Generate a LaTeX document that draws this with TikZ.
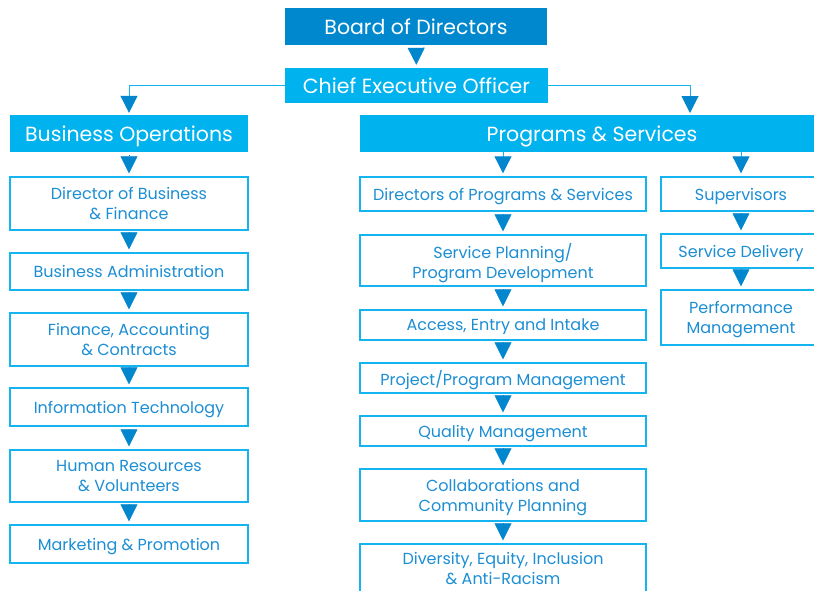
\documentclass[tikz,border=0pt]{standalone}
\usepackage{fontspec}
\setmainfont{Poppins}
\usetikzlibrary{arrows.meta}

\definecolor{boardblue}{RGB}{0,136,207}
\definecolor{headblue}{RGB}{0,178,238}
\definecolor{lineblue}{RGB}{20,180,240}
\definecolor{tipblue}{RGB}{2,134,206}
\definecolor{txtblue}{RGB}{28,142,212}

\tikzset{
  header/.style={fill=headblue, text=white, inner sep=0pt, text depth=0pt,
    font=\fontsize{20.5}{24}\selectfont},
  unit/.style={draw=lineblue, line width=1.4pt, fill=white, text=txtblue,
    inner sep=0pt, text depth=0pt, align=center,
    font=\fontsize{16}{20}\selectfont},
  link/.style={draw=lineblue, line width=1pt},
  tipped/.style={-{Triangle[length=17pt,width=17pt,color=tipblue,fill=tipblue]},
    shorten >=3pt},
  chain/.style={tipped, draw=tipblue, line width=0.5pt, shorten <=3pt}
}

\begin{document}
\begin{tikzpicture}[x=1pt,y=-1pt]
\clip (0,0) rectangle (814,590);
\fill[white] (0,0) rectangle (814,590);

% top of the organisation
\node[header, fill=boardblue, minimum width=262pt, minimum height=37pt] (board) at (416,26.5) {Board of Directors};
\node[header, minimum width=263pt, minimum height=35pt] (ceo) at (416.5,85.5) {Chief Executive Officer};

% the two divisions
\node[header, minimum width=238pt, minimum height=37pt] (bizops) at (129,133.5) {Business Operations};
\node[header, minimum width=464pt, minimum height=37pt] (progs) at (592,133.5) {Programs \& Services};
\coordinate (progsin) at (690,115);

% business operations column
\node[unit, minimum width=238pt, minimum height=53pt] (l1) at (129,203.5) {Director of Business\\\& Finance};
\node[unit, minimum width=238pt, minimum height=37pt] (l2) at (129,271.5) {Business Administration};
\node[unit, minimum width=238pt, minimum height=53pt] (l3) at (129,339.5) {Finance, Accounting\\\& Contracts};
\node[unit, minimum width=238pt, minimum height=38pt] (l4) at (129,407) {Information Technology};
\node[unit, minimum width=238pt, minimum height=52pt] (l5) at (129,476) {Human Resources\\\& Volunteers};
\node[unit, minimum width=238pt, minimum height=38pt] (l6) at (129,544) {Marketing \& Promotion};

% programs column
\node[unit, minimum width=286pt, minimum height=34pt] (m1) at (503,194) {Directors of Programs \& Services};
\node[unit, minimum width=286pt, minimum height=51pt] (m2) at (503,260.5) {Service Planning/\\Program Development};
\node[unit, minimum width=286pt, minimum height=30pt] (m3) at (503,325) {Access, Entry and Intake};
\node[unit, minimum width=286pt, minimum height=30pt] (m4) at (503,378) {Project/Program Management};
\node[unit, minimum width=286pt, minimum height=30pt] (m5) at (503,431) {Quality Management};
\node[unit, minimum width=286pt, minimum height=52pt] (m6) at (503,495) {Collaborations and\\Community Planning};
\node[unit, minimum width=286pt, minimum height=48pt] (m7) at (503,568) {Diversity, Equity, Inclusion\\\& Anti-Racism};

% supervision column
\node[unit, minimum width=160pt, minimum height=34pt] (r1) at (741,194) {Supervisors};
\node[unit, minimum width=160pt, minimum height=34pt] (r2) at (741,251) {Service Delivery};
\node[unit, minimum width=160pt, minimum height=55pt] (r3) at (741,317.5) {Performance\\Management};

% connectors
\draw[chain] (board) -- (ceo);
\draw[link, tipped, shorten >=2pt] (ceo.west) -| (bizops.north);
\draw[link, tipped, shorten >=2pt] (ceo.east) -| (progsin);
\draw[link, tipped] (progs.south -| m1.north) -- (m1.north);
\draw[link, tipped] (progs.south -| r1.north) -- (r1.north);

\draw[chain] (bizops) -- (l1);
\draw[chain] (l1) -- (l2);
\draw[chain] (l2) -- (l3);
\draw[chain] (l3) -- (l4);
\draw[chain] (l4) -- (l5);
\draw[chain] (l5) -- (l6);

\draw[chain] (m1) -- (m2);
\draw[chain] (m2) -- (m3);
\draw[chain] (m3) -- (m4);
\draw[chain] (m4) -- (m5);
\draw[chain] (m5) -- (m6);
\draw[chain] (m6) -- (m7);

\draw[chain] (r1) -- (r2);
\draw[chain] (r2) -- (r3);
\end{tikzpicture}
\end{document}
